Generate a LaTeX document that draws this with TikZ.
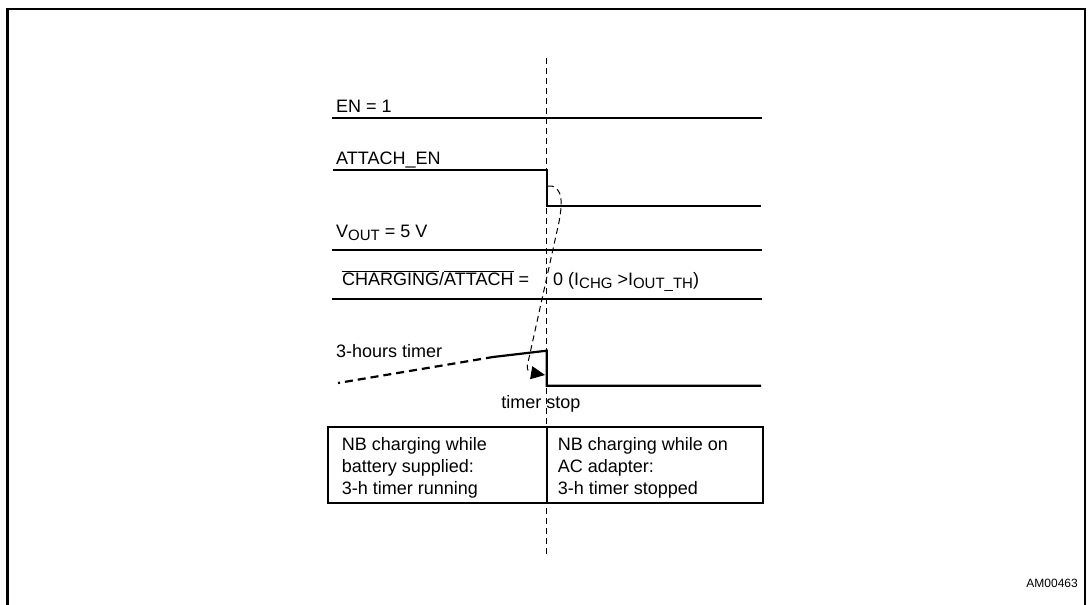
\documentclass[tikz,border=0pt]{standalone}
\usepackage{fontspec}
\setmainfont{Liberation Sans}
\usetikzlibrary{arrows.meta}
\newcommand{\lowsub}[1]{\raisebox{-0.35ex}{\fontsize{15}{15}\selectfont #1}}

\begin{document}
\begin{tikzpicture}[x=1pt, y=-1pt,
            every node/.style={font=\fontsize{18}{21.7}\selectfont, inner sep=0pt}, % Sans text
            signal/.style={line width=2.2pt}, % Waveform lines
            marker/.style={line width=1pt, dash pattern=on 6pt off 4pt}, % Dashed lines
            lbl/.style={anchor=base west} % Signal names
            ]

                % Page size and frame
                \useasboundingbox (0,0) rectangle (1088,605);
                \draw[line width=2.4pt] (7.3,606) -- (7.3,9) -- (1084.7,9) -- (1084.7,606);

                % Signal names
                \node[lbl] (en) at (336,112) {EN = 1};
                \node[lbl] (attach) at (336,164) {ATTACH\_EN};
                \node[lbl] (vout) at (336,237) {V\lowsub{OUT} = 5 V};
                \node[lbl] (chg) at (342,285) {$\overline{\hbox{CHARGING}}$/$\overline{\hbox{ATTACH}}$ =};
                \node[lbl] (chgval) at (553,285) {0 (I\lowsub{CHG} >I\lowsub{OUT\_TH})};
                \node[lbl] (timer) at (336,357) {3-hours timer};
                \node[anchor=base] (tstop) at (541,408) {timer stop};

                % Waveforms
                \draw[signal] (332,117.7) -- (762,117.7);
                \draw[signal] (333,170) -- (546.7,170) -- (546.7,206) -- (761,206);
                \draw[signal] (332,250) -- (762,250);
                \draw[signal] (332,299) -- (762,299);
                \draw[signal, dash pattern=on 8pt off 5pt, dash phase=6pt] (338,383) -- (493,357);
                \draw[signal] (493,357) -- (546.7,350.7) -- (546.7,385.7) -- (761,385.7);

                % Time marker and arrow
                \draw[marker] (546.7,58) -- (546.7,555);
                \coordinate (drop) at (548,186);
                \coordinate (stop) at (545,375);
                \draw[marker, -{Triangle[length=14pt, width=13pt]}] (drop) -- (552,186)
                    .. controls (562,190) and (563,200) .. (559,222) -- (529,358)
                    .. controls (526,368) and (527,372) .. (stop);

                % Table of states
                \draw[line width=2.2pt] (328.3,427.3) rectangle (762.7,503.3);
                \draw[line width=2.2pt] (546.7,427.3) -- (546.7,503.3);
                \node[anchor=north west, align=left] (left) at (341.7,437.6)
                    {NB charging while\\battery supplied:\\3-h timer running};
                \node[anchor=north west, align=left] (right) at (557.7,437.6)
                    {NB charging while on\\AC adapter:\\3-h timer stopped};

                % Figure code
                \node[anchor=base east, font=\fontsize{12}{14}\selectfont] (code) at (1078,587) {AM00463};

            \end{tikzpicture}
\end{document}
